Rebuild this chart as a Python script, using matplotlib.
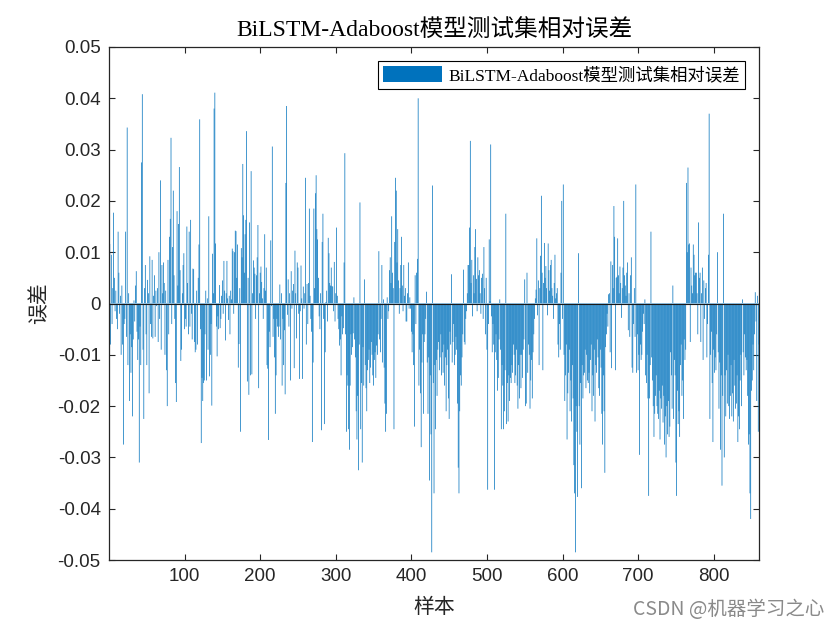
import matplotlib
matplotlib.use('Agg')
import matplotlib.pyplot as plt
import numpy as np
from matplotlib.patches import Patch

# relative error of each test sample, in units of 1e-3
err_001_100 = [
    11.6, -8.0, 9.5, -4.0, 3.0, 17.7, 5.0, -1.5, 2.5, -3.0, -5.0, 14.0, 6.0, -2.0, 1.5, -10.0, 3.5, -8.0, -27.5, -4.0,
    -3.0, 14.0, -6.5, 34.3, -12.0, 2.0, -19.0, -6.0, -13.5, -8.5, -22.0, -7.0, 0.6, -3.5, 3.5, 6.3, -5.5, -11.0, -7.0, -31.0,
    -4.5, -12.0, 27.5, 40.8, -9.0, -22.5, 3.0, 7.5, -6.0, -12.0, 4.6, 2.0, -17.5, 9.2, -4.0, -6.5, 8.5, -6.8, 1.5, 5.5,
    -6.5, 2.5, -0.5, 3.0, -7.5, 10.0, -3.0, 24.0, -9.0, 7.5, 2.0, 8.0, 4.0, -10.0, 2.5, -13.0, -20.0, 8.5, -6.0, 13.0,
    16.5, 32.3, -4.0, 11.0, 22.0, 5.5, -3.0, -15.5, -19.2, 18.0, 3.5, 15.5, 26.6, 6.5, -11.2, -9.0, 2.0, 7.5, 9.8, -5.0,
]
err_101_200 = [
    -3.0, -4.5, 15.0, 4.0, -6.0, 14.0, -4.5, 16.3, -2.0, -7.0, 6.8, 6.7, -7.5, -9.5, -9.0, 2.5, -8.0, 5.0, 11.5, 35.9,
    -5.0, -27.2, -14.5, -19.0, -15.5, -15.0, -6.0, 2.5, -15.0, 1.0, -9.0, 17.0, -14.2, -10.0, -4.0, -19.9, 9.7, 2.0, 38.0, 41.1,
    11.7, -4.5, -10.3, -2.5, -5.0, 3.6, -4.8, -3.0, 1.5, 4.5, -2.0, 8.3, 2.5, -7.2, 2.0, 8.3, 1.0, -3.2, 1.5, -6.0,
    2.5, 0.8, 10.7, 10.2, -2.0, 10.0, 14.2, 14.1, 5.0, 11.5, -12.5, -7.9, 3.0, -25.0, 10.8, 9.0, 27.2, 17.2, 6.0, 13.5,
    16.3, 33.6, -15.2, 5.0, -17.8, 15.8, -14.0, 25.8, -13.8, 2.0, 8.4, 7.0, 5.8, -3.0, 5.5, 9.0, 15.3, -16.5, 2.0, 6.0,
]
err_201_300 = [
    7.2, 4.2, 1.0, -3.0, 3.0, 13.5, 2.5, 7.0, -12.0, -12.7, -26.6, -5.5, -8.5, 12.3, -0.5, 30.6, -6.5, -3.0, -10.5, -21.5,
    -14.0, -3.0, -4.5, -6.5, -4.5, 3.7, -7.0, 2.0, -16.0, -3.0, -12.0, -5.2, -17.7, 23.5, 38.5, -2.2, 4.7, -4.5, 2.0, -15.0,
    6.3, -1.0, 2.5, 3.8, -12.6, 10.3, 2.0, -6.8, 8.0, 7.0, -2.0, -14.7, -1.5, 7.4, 1.0, -14.7, 3.3, -1.0, 2.0, 24.5,
    -8.0, 3.8, -4.0, 4.0, 18.5, 1.5, -3.0, -5.5, -27.0, -11.5, 18.5, 3.0, 21.5, 25.0, 14.5, 12.5, 5.0, -2.5, -5.0, 2.0,
    -24.7, 12.0, 17.5, -3.0, -23.5, -9.5, 0.3, 2.5, -3.5, 12.8, 9.8, 4.0, 3.5, 7.0, 3.4, 3.3, -1.5, 8.1, -3.5, 2.0,
]
err_301_400 = [
    14.8, 1.5, -3.0, -5.0, -8.2, -7.0, -14.0, -2.5, -6.0, -4.8, 8.0, 29.3, -6.0, -25.0, -14.0, -16.0, -24.5, -28.5, -16.0, -6.0,
    -10.0, -8.5, -5.8, 1.2, -7.0, -10.5, -21.0, -26.5, -18.0, -32.5, -8.0, 19.7, -24.5, -15.5, -31.0, -8.5, -16.0, 4.7, -12.0, -16.5,
    -21.0, -13.0, -11.0, -9.0, -15.5, -12.5, -7.5, -10.0, -14.0, -16.0, -11.0, -9.5, -14.5, -8.2, -10.0, -6.0, 10.2, -7.0, -9.5, -3.0,
    7.5, -11.5, 0.8, -12.5, -19.5, -25.0, -21.5, 1.2, -3.0, -1.5, 6.5, 9.0, 4.0, 17.0, 6.0, 3.0, -24.5, 12.0, 24.5, 22.0,
    8.0, 14.5, 4.5, -2.0, 3.0, 7.5, 13.0, 3.5, -1.5, 7.5, 1.5, 3.0, -3.5, -3.5, 2.0, 8.0, -1.0, 1.2, -1.0, -5.5,
]
err_401_500 = [
    -9.5, -6.0, -12.0, -24.0, 5.5, -4.0, 6.0, 8.7, 40.0, -16.0, -9.0, -17.5, -28.0, -11.5, -6.0, -21.5, -7.5, -6.0, -3.0, 2.3,
    -11.5, -21.5, -10.5, -34.5, -14.0, -25.5, -48.5, 23.0, -15.5, -37.0, -12.0, -24.5, -11.0, -18.0, -9.0, -7.5, -13.0, -10.5, -6.0, -14.0,
    -9.5, -13.5, -8.0, -16.0, -10.5, -21.0, -12.0, -9.0, -18.5, -22.5, -5.5, -8.0, 5.7, -11.5, -7.5, -4.0, -12.0, -10.0, -6.5, -9.0,
    -19.5, -32.0, -37.0, -21.0, -14.0, -16.0, -10.5, -6.0, 6.6, -7.5, -8.0, -3.0, -1.5, 2.0, 7.5, 7.5, 14.8, 31.7, 4.0, 8.5,
    -2.5, 5.5, 2.0, 11.0, 14.5, 4.8, -1.5, 9.0, 5.5, 6.5, 2.0, -2.0, 5.0, 5.8, -3.0, 11.0, 3.0, -6.0, 5.0, -9.0,
]
err_501_600 = [
    -36.3, -4.0, 12.5, 0.5, 31.0, -2.5, -9.5, -4.0, -8.0, -36.3, -9.5, -6.0, -11.0, -17.0, -14.5, -7.0, 0.8, -9.0, -24.5, -12.0,
    -16.0, -24.5, -21.0, -13.0, 17.5, -23.5, -15.5, -23.0, -14.0, -19.0, -14.5, -15.5, -12.0, -13.5, -8.0, -10.0, -15.5, -14.0, -9.0, -16.0,
    -20.5, -12.0, -18.5, -10.0, -16.5, -10.0, -14.5, -9.0, -7.0, 4.7, -20.0, -19.5, 6.0, -13.5, -8.0, -10.0, -20.5, -15.0, -11.0, -18.5,
    -9.5, -6.0, -3.0, 1.0, 2.7, 12.7, -2.3, 4.5, -12.0, 3.0, 9.3, 21.0, 6.0, -13.0, 4.0, 11.8, 5.0, 7.3, 3.0, -2.3,
    11.7, 6.5, 2.5, 7.5, 8.5, 3.0, 1.5, -3.0, 4.0, 9.5, 1.0, 2.0, 3.0, -8.0, -10.5, -4.0, -9.0, 6.0, 20.0, -3.0,
]
err_601_700 = [
    23.2, -10.0, -19.0, -14.0, -8.0, -26.5, -17.5, -13.5, -9.0, -21.0, -15.0, -23.0, -12.0, -18.5, -31.5, -37.0, -48.5, -20.0, -25.0, -37.7,
    9.8, -20.0, -27.5, -15.5, -36.0, -12.0, -18.5, -14.0, -13.5, -9.0, -16.5, -10.0, -15.0, -15.5, -13.5, -17.5, -11.0, -8.0, -21.0, -14.0,
    -18.0, -9.0, -23.0, -12.0, -13.5, -7.0, -10.5, -16.5, -18.0, -9.0, -12.5, -21.5, -27.5, -14.0, -21.0, -33.0, -8.5, -6.0, -2.0, -4.5,
    1.8, 2.0, -9.5, 8.2, -12.6, 7.5, 3.0, 19.0, 13.0, -13.0, 5.0, 5.2, 12.7, 5.5, 2.0, 7.2, 4.0, -2.8, 3.0, 7.0,
    20.0, 5.5, 3.5, 1.5, 6.0, 8.0, -5.2, 2.0, -6.5, 5.5, 9.0, -12.5, -13.5, -4.0, 3.0, -6.5, 23.2, -13.5, -6.0, -13.0,
]
err_701_800 = [
    -10.0, -29.5, -8.0, -11.0, -10.0, -5.5, -2.0, -4.0, 0.8, -14.0, -15.5, -10.0, -18.5, -37.5, -18.5, -12.0, 14.0, -10.5, -15.0, -20.0,
    -26.0, -21.5, -18.0, -14.0, -20.0, -21.5, -22.5, -17.0, -26.5, -18.5, -20.5, -16.0, -23.2, -18.0, -27.5, -22.0, -30.0, -20.0, -25.5, -19.0,
    -26.0, -24.0, -9.5, -14.0, -20.5, 3.5, -22.5, -11.0, -14.0, -31.0, -37.5, -17.0, -23.5, -21.0, -26.0, -12.0, -8.0, -18.0, -15.0, -22.5,
    -7.0, -11.0, -9.0, 23.5, 10.0, 26.5, 11.5, 11.7, -7.5, 7.0, 3.5, 2.0, 11.5, 9.5, 5.5, 6.0, 6.0, 2.0, -6.0, 15.8,
    5.0, 6.0, -7.5, 2.0, 7.0, -11.0, 4.5, -3.0, 3.0, 4.0, -10.5, -4.0, 9.5, 37.0, -22.5, -10.0, -5.5, -15.5, -27.0, -9.0,
]
err_801_860 = [
    -13.5, -10.5, -13.0, -6.0, 10.0, -9.5, -20.5, -11.5, -28.5, -14.0, -35.5, -18.0, 17.5, -30.0, -14.0, -22.0, -13.0, -19.5, -10.0, -20.0,
    -22.5, -18.0, -12.0, -22.0, -17.5, -23.0, -11.0, -16.0, -20.5, -19.5, -14.0, -27.0, -22.0, -24.5, -15.0, -10.0, -20.0, 0.8, -9.5, -14.0,
    -6.0, -10.5, -13.0, -11.0, -18.0, -27.5, -25.5, -37.0, -42.0, -17.0, -15.0, -8.0, -13.0, -6.0, 2.2, -3.5, -19.0, 1.5, -25.0, -8.0,
]

title_txt = 'BiLSTM-Adaboost模型测试集相对误差'
legend_txt = 'BiLSTM-Adaboost模型测试集相对误差'
xticks = [100, 200, 300, 400, 500, 600, 700, 800]
yticks = [-0.05, -0.04, -0.03, -0.02, -0.01, 0, 0.01, 0.02, 0.03, 0.04, 0.05]
ytick_labels = ['-0.05', '-0.04', '-0.03', '-0.02', '-0.01', '0',
                '0.01', '0.02', '0.03', '0.04', '0.05']

errors = np.concatenate([err_001_100, err_101_200, err_201_300, err_301_400,
                         err_401_500, err_501_600, err_601_700, err_701_800,
                         err_801_860]) / 1000.0
samples = np.arange(1, len(errors) + 1)

serif_cjk = ['Liberation Serif', 'Noto Sans CJK SC']
sans = ['Liberation Sans', 'DejaVu Sans']
dark = '#262626'
blue = '#0072BD'

fig = plt.figure(figsize=(8.4, 6.3), dpi=100)
ax = fig.add_axes([0.1298, 0.1111, 0.7738, 0.8143])

# thin bars, no snapping so they blend like the original
ax.bar(samples, errors, width=0.95, color=blue, linewidth=0, zorder=2, snap=False)
ax.axhline(0, color='#1a1a1a', lw=0.8, zorder=3)

ax.set_xlim(0, 860)
ax.set_ylim(-0.05, 0.05)
ax.set_xticks(xticks)
ax.set_xticklabels([str(t) for t in xticks], family=sans, fontsize=13.5, color=dark)
ax.set_yticks(yticks)
ax.set_yticklabels(ytick_labels, family=sans, fontsize=13.5, color=dark)
ax.tick_params(direction='in', length=4, width=0.8, top=True, right=True,
               colors=dark, pad=6)
for sp in ax.spines.values():
    sp.set_color(dark)
    sp.set_linewidth(0.9)

ax.set_title(title_txt, family=serif_cjk, fontsize=17, color='black', pad=7)
ax.set_xlabel('样本', family=['Noto Sans CJK SC'], fontsize=15, color=dark, labelpad=8)
ax.set_ylabel('误差', family=['Noto Sans CJK SC'], fontsize=15, color=dark, labelpad=5)

handle = Patch(facecolor=blue, edgecolor='none')
leg = ax.legend([handle], [legend_txt], loc='upper right', fancybox=False,
                framealpha=1, edgecolor='black', handlelength=3.4, handleheight=1.0,
                handletextpad=0.35, borderpad=0.3, borderaxespad=0.8,
                prop={'family': serif_cjk, 'size': 12.5})
leg.get_frame().set_linewidth(0.8)

fig.text(0.981, 0.032, 'CSDN @机器学习之心', ha='right', va='center',
         family=['Noto Sans CJK SC'], fontsize=14, color='#8a8a8a')

fig.savefig('out.png', dpi=100, facecolor='white')
